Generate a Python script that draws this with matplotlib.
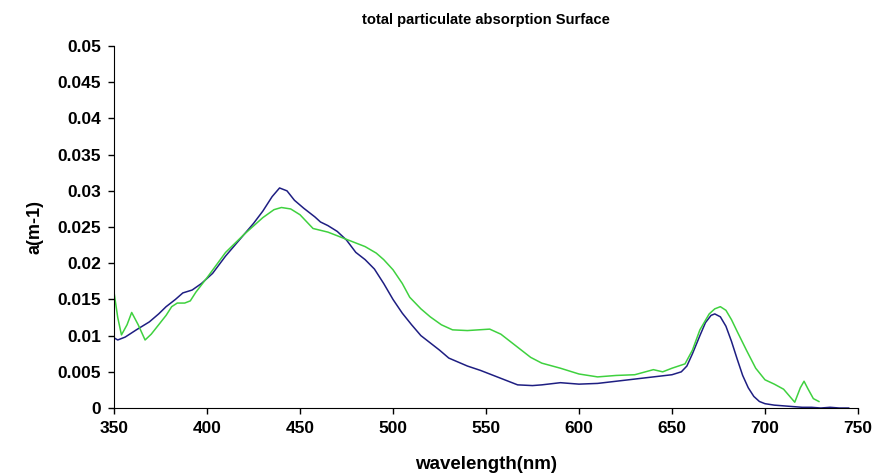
import matplotlib
matplotlib.use("Agg")
import matplotlib.pyplot as plt

plt.rcParams['font.family'] = ['Liberation Sans', 'DejaVu Sans']
plt.rcParams['font.weight'] = 'bold'

# blue spectrum (wavelength nm, absorption m-1)
blue_wl = [350, 352, 356, 362, 369, 374, 378, 383, 387, 392, 397, 403, 410,
           415, 420, 425, 430, 435, 439, 443, 447, 452, 458, 461, 465, 470, 475,
           480, 485, 490, 495, 500, 505, 510, 515, 520, 525, 530, 540, 547, 556,
           567, 575, 580, 590, 600, 610, 620, 630, 640, 650, 655, 658, 661, 665,
           668, 671, 673, 676, 679, 682, 685, 688, 691, 694, 697, 700, 705, 710,
           715, 720, 725, 730, 735, 740, 745]
blue_a = [0.0097, 0.0094, 0.0098, 0.0108, 0.0119, 0.0130, 0.0140, 0.0150, 0.0159,
          0.0163, 0.0172, 0.0186, 0.0210, 0.0225, 0.0240, 0.0255, 0.0272, 0.0292,
          0.0304, 0.0300, 0.0287, 0.0276, 0.0264, 0.0257, 0.0252, 0.0244, 0.0232,
          0.0215, 0.0205, 0.0192, 0.0172, 0.0150, 0.0131, 0.0115, 0.0100, 0.0090,
          0.0080, 0.0069, 0.0058, 0.0052, 0.0043, 0.0032, 0.0031, 0.0032, 0.0035,
          0.0033, 0.0034, 0.0037, 0.0040, 0.0043, 0.0046, 0.0050, 0.0058, 0.0075,
          0.0100, 0.0118, 0.0128, 0.0130, 0.0126, 0.0113, 0.0092, 0.0068, 0.0045,
          0.0028, 0.0016, 0.0009, 0.0006, 0.0004, 0.0003, 0.0002, 0.0001, 0.0001,
          0.0000, 0.0001, 0.0000, 0.0000]

# green spectrum
green_wl = [350, 352, 354, 357, 359.5, 363, 366.7, 370, 374, 378, 381, 384, 388,
            391, 394, 400, 410, 420, 430, 436, 440, 445, 450, 457, 465, 473, 480,
            485, 491, 495, 500, 505, 509, 515, 520, 526, 532, 540, 546, 552, 558,
            564, 574, 580, 590, 600, 610, 620, 630, 640, 645, 650, 657, 661, 665,
            670, 673, 676, 679, 682, 685, 690, 695, 700, 705, 710, 713, 716, 719,
            721, 723, 726, 729]
green_a = [0.0160, 0.0125, 0.0101, 0.0115, 0.0132, 0.0115, 0.0094, 0.0102, 0.0115,
           0.0128, 0.0140, 0.0145, 0.0145, 0.0148, 0.0160, 0.0180, 0.0215, 0.0240,
           0.0263, 0.0274, 0.0277, 0.0275, 0.0267, 0.0248, 0.0243, 0.0235, 0.0228,
           0.0223, 0.0214, 0.0205, 0.0191, 0.0172, 0.0153, 0.0137, 0.0126, 0.0115,
           0.0108, 0.0107, 0.0108, 0.0109, 0.0102, 0.0090, 0.0070, 0.0062, 0.0055,
           0.0047, 0.0043, 0.0045, 0.0046, 0.0053, 0.0050, 0.0055, 0.0061, 0.0080,
           0.0108, 0.0130, 0.0137, 0.0140, 0.0135, 0.0122, 0.0106, 0.0080, 0.0055,
           0.0039, 0.0033, 0.0026, 0.0017, 0.0008, 0.0028, 0.0037, 0.0027, 0.0013,
           0.0009]

x_ticks = [350, 400, 450, 500, 550, 600, 650, 700, 750]
y_ticks = [0, 0.005, 0.01, 0.015, 0.02, 0.025, 0.03, 0.035, 0.04, 0.045, 0.05]
y_labels = ['0', '0.005', '0.01', '0.015', '0.02', '0.025', '0.03', '0.035',
            '0.04', '0.045', '0.05']

fig = plt.figure(figsize=(8.88, 4.75), dpi=100)
ax = fig.add_axes([0.1284, 0.141, 0.8378, 0.762])

ax.plot(blue_wl, blue_a, color='#1e1e82', lw=1.1)
ax.plot(green_wl, green_a, color='#3fd13f', lw=1.1)

ax.set_xlim(350, 750)
ax.set_ylim(0, 0.05)
ax.set_xticks(x_ticks)
ax.set_yticks(y_ticks)
ax.set_yticklabels(y_labels)
ax.tick_params(direction='out', length=4.5, width=1, labelsize=12.5, pad=5)
for lab in ax.get_xticklabels() + ax.get_yticklabels():
    lab.set_fontweight('bold')

ax.spines['top'].set_visible(False)
ax.spines['right'].set_visible(False)

ax.set_title('total particulate absorption Surface', fontsize=10.6,
             fontweight='bold', pad=16)
ax.set_xlabel('wavelength(nm)', fontsize=13.5, fontweight='bold', labelpad=14)
ax.set_ylabel('a(m-1)', fontsize=13, fontweight='bold', labelpad=10)

fig.savefig('out.png', dpi=100)
